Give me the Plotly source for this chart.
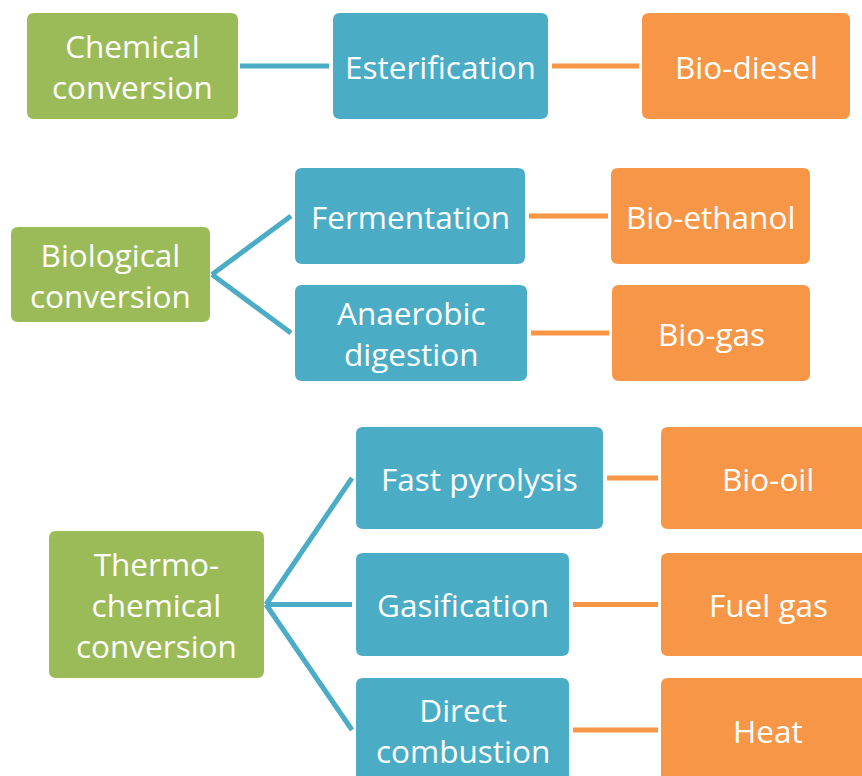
import plotly.graph_objects as go

# ---- content ----
methods = ["Chemical<br>conversion", "Biological<br>conversion", "Thermo-<br>chemical<br>conversion"]
processes = ["Esterification", "Fermentation", "Anaerobic<br>digestion",
             "Fast pyrolysis", "Gasification", "Direct<br>combustion"]
products = ["Bio-diesel", "Bio-ethanol", "Bio-gas", "Bio-oil", "Fuel gas", "Heat"]
process_method = [0, 1, 1, 2, 2, 2]  # which method each process belongs to

# ---- layout (pixel boxes: x0, y0, x1, y1) ----
method_boxes = [(27, 13, 238, 119), (11, 227, 210, 322), (49, 531, 264, 678)]
process_boxes = [(333, 13, 548, 119), (295, 168, 525, 264), (295, 285, 527, 381),
                 (356, 427, 603, 529), (356, 553, 569, 656), (356, 678, 569, 790)]
product_boxes = [(642, 13, 850, 119), (611, 168, 810, 264), (612, 285, 810, 381),
                 (661, 427, 880, 529), (661, 553, 880, 656), (661, 678, 880, 790)]

GREEN = "#9BBB59"
BLUE = "#4BACC6"
ORANGE = "#F79646"
W, H = 862, 776
FONT = "Open Sans"
FS = 31.5

fig = go.Figure()
shapes = []
annotations = []


def rrect(b, color, r=7):
    x0, y0, x1, y1 = b
    p = (f"M {x0+r},{y0} L {x1-r},{y0} Q {x1},{y0} {x1},{y0+r} "
         f"L {x1},{y1-r} Q {x1},{y1} {x1-r},{y1} L {x0+r},{y1} "
         f"Q {x0},{y1} {x0},{y1-r} L {x0},{y0+r} Q {x0},{y0} {x0+r},{y0} Z")
    return dict(type="path", path=p, fillcolor=color, line=dict(width=0), layer="above")


def add_text(x, y, text):
    annotations.append(dict(x=x, y=y, text=text, showarrow=False, xref="x", yref="y",
                            font=dict(family=FONT, size=FS, color="white"),
                            xanchor="center", yanchor="middle"))


def center(b):
    return (b[0] + b[2]) / 2, (b[1] + b[3]) / 2


# connectors
proc_y = []
for i, pb in enumerate(process_boxes):
    mb = method_boxes[process_method[i]]
    my = (mb[1] + mb[3]) / 2
    py = (pb[1] + pb[3]) / 2
    if i == 0:
        py = 66
    if i == 5:
        py = 730
    proc_y.append(py)
    fig.add_trace(go.Scatter(x=[mb[2] + 2, pb[0] - 4], y=[my, py], mode="lines",
                             line=dict(color=BLUE, width=5), hoverinfo="skip",
                             showlegend=False))
    qb = product_boxes[i]
    fig.add_trace(go.Scatter(x=[pb[2] + 4, qb[0] - 3], y=[py, py], mode="lines",
                             line=dict(color=ORANGE, width=5), hoverinfo="skip",
                             showlegend=False))

for b, t in zip(method_boxes, methods):
    shapes.append(rrect(b, GREEN))
    add_text(*center(b), t)
for i, (b, t) in enumerate(zip(process_boxes, processes)):
    shapes.append(rrect(b, BLUE))
    add_text((b[0] + b[2]) / 2, proc_y[i], t)
for i, (b, t) in enumerate(zip(product_boxes, products)):
    shapes.append(rrect(b, ORANGE))
    cx = (b[0] + b[2]) / 2 if i < 3 else 768
    add_text(cx, proc_y[i], t)

fig.update_layout(
    width=W, height=H, margin=dict(l=0, r=0, t=0, b=0),
    paper_bgcolor="white", plot_bgcolor="white",
    xaxis=dict(range=[0, W], visible=False, fixedrange=True),
    yaxis=dict(range=[H, 0], visible=False, fixedrange=True),
    shapes=shapes, annotations=annotations, showlegend=False,
)
fig.write_html("out.html", config={"displayModeBar": False},
               post_script="document.body.style.margin='0';document.body.style.overflow='hidden';")
